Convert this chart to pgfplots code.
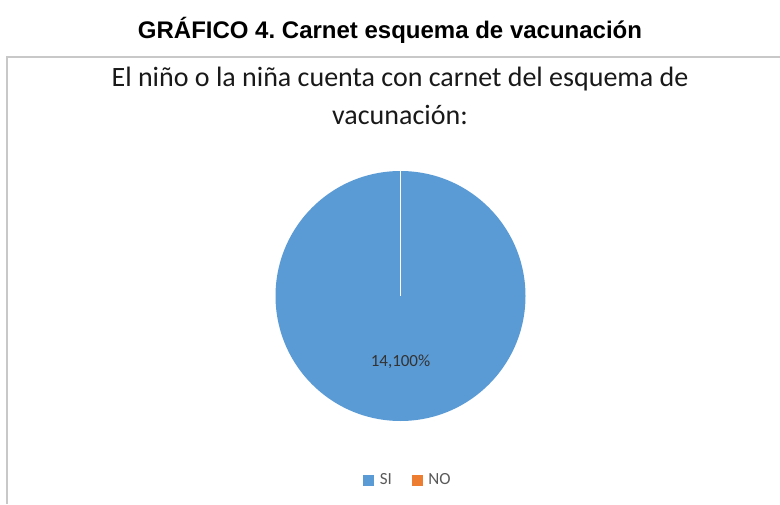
\documentclass[border=0pt]{standalone}
\usepackage{fontspec}
\setmainfont{Carlito}
\newfontfamily\arialfont{Liberation Sans}
\usepackage{pgfplots}
\usepackage{pgfplotstable}
\pgfplotsset{compat=1.18}
\frenchspacing

\definecolor{siblue}{HTML}{5B9BD5}
\definecolor{noorange}{HTML}{ED7D31}
\definecolor{boxgray}{HTML}{C8C8C8}

% respuestas: SI / NO
\pgfplotstableread{
label value
SI 14
NO 0
}\carnet

\begin{document}
\begin{tikzpicture}[x=1pt,y=1pt]
\useasboundingbox (0,0) rectangle (780,504);
% marco del grafico
\draw[boxgray, line width=1.2pt] (7,0) -- (7,447) -- (780,447);
% titulo general
\node[font=\arialfont\bfseries\fontsize{24}{28}\selectfont] at (390,474) {GRÁFICO 4. Carnet esquema de vacunación};
% titulo del grafico
\node[font=\fontsize{28}{38}\selectfont, align=center, text=black!90] at (400,408)
  {El niño o la niña cuenta con carnet del esquema de\\vacunación:};

\pgfplotstablegetelem{0}{value}\of\carnet \let\vsi\pgfplotsretval
\pgfplotstablegetelem{1}{value}\of\carnet \let\vno\pgfplotsretval
\pgfmathsetmacro{\total}{\vsi+\vno}
\pgfmathsetmacro{\asi}{360*\vsi/\total}
\pgfmathsetmacro{\ano}{360*\vno/\total}
\pgfmathtruncatemacro{\psi}{round(100*\vsi/\total)}

\begin{axis}[
  at={(400.5pt,208pt)}, anchor=center,
  width=250pt, height=250pt, scale only axis,
  xmin=-1, xmax=1, ymin=-1, ymax=1,
  hide axis, clip=false,
  legend columns=2,
  legend style={draw=none, fill=none, at={(0.53,-0.236)}, anchor=center,
    font=\fontsize{17}{19}\selectfont, text=black!65,
    /tikz/every even column/.append style={column sep=18pt},
    /tikz/every odd column/.append style={column sep=4pt}},
  legend image code/.code={\fill[#1] (0pt,-5pt) rectangle (10pt,5pt);},
]
\addlegendimage{siblue}
\addlegendentry{SI}
\addlegendimage{noorange}
\addlegendentry{NO}
% porcion SI (en sentido horario desde arriba)
\fill[siblue] (axis cs:0,0) -- (axis cs:0,1) arc[start angle=90, delta angle=-\asi, radius=125pt] -- cycle;
\ifdim\ano pt>0pt
\fill[noorange] (axis cs:0,0) -- ([shift={(90-\asi:125pt)}]axis cs:0,0) arc[start angle=90-\asi, delta angle=-\ano, radius=125pt] -- cycle;
\fi
\draw[white, line width=1.6pt] (axis cs:0,0) -- (axis cs:0,1);
\node[font=\fontsize{17}{19}\selectfont, text=black!80] at (axis cs:0,-0.53) {\vsi,\psi\%};
\end{axis}
\end{tikzpicture}
\end{document}
